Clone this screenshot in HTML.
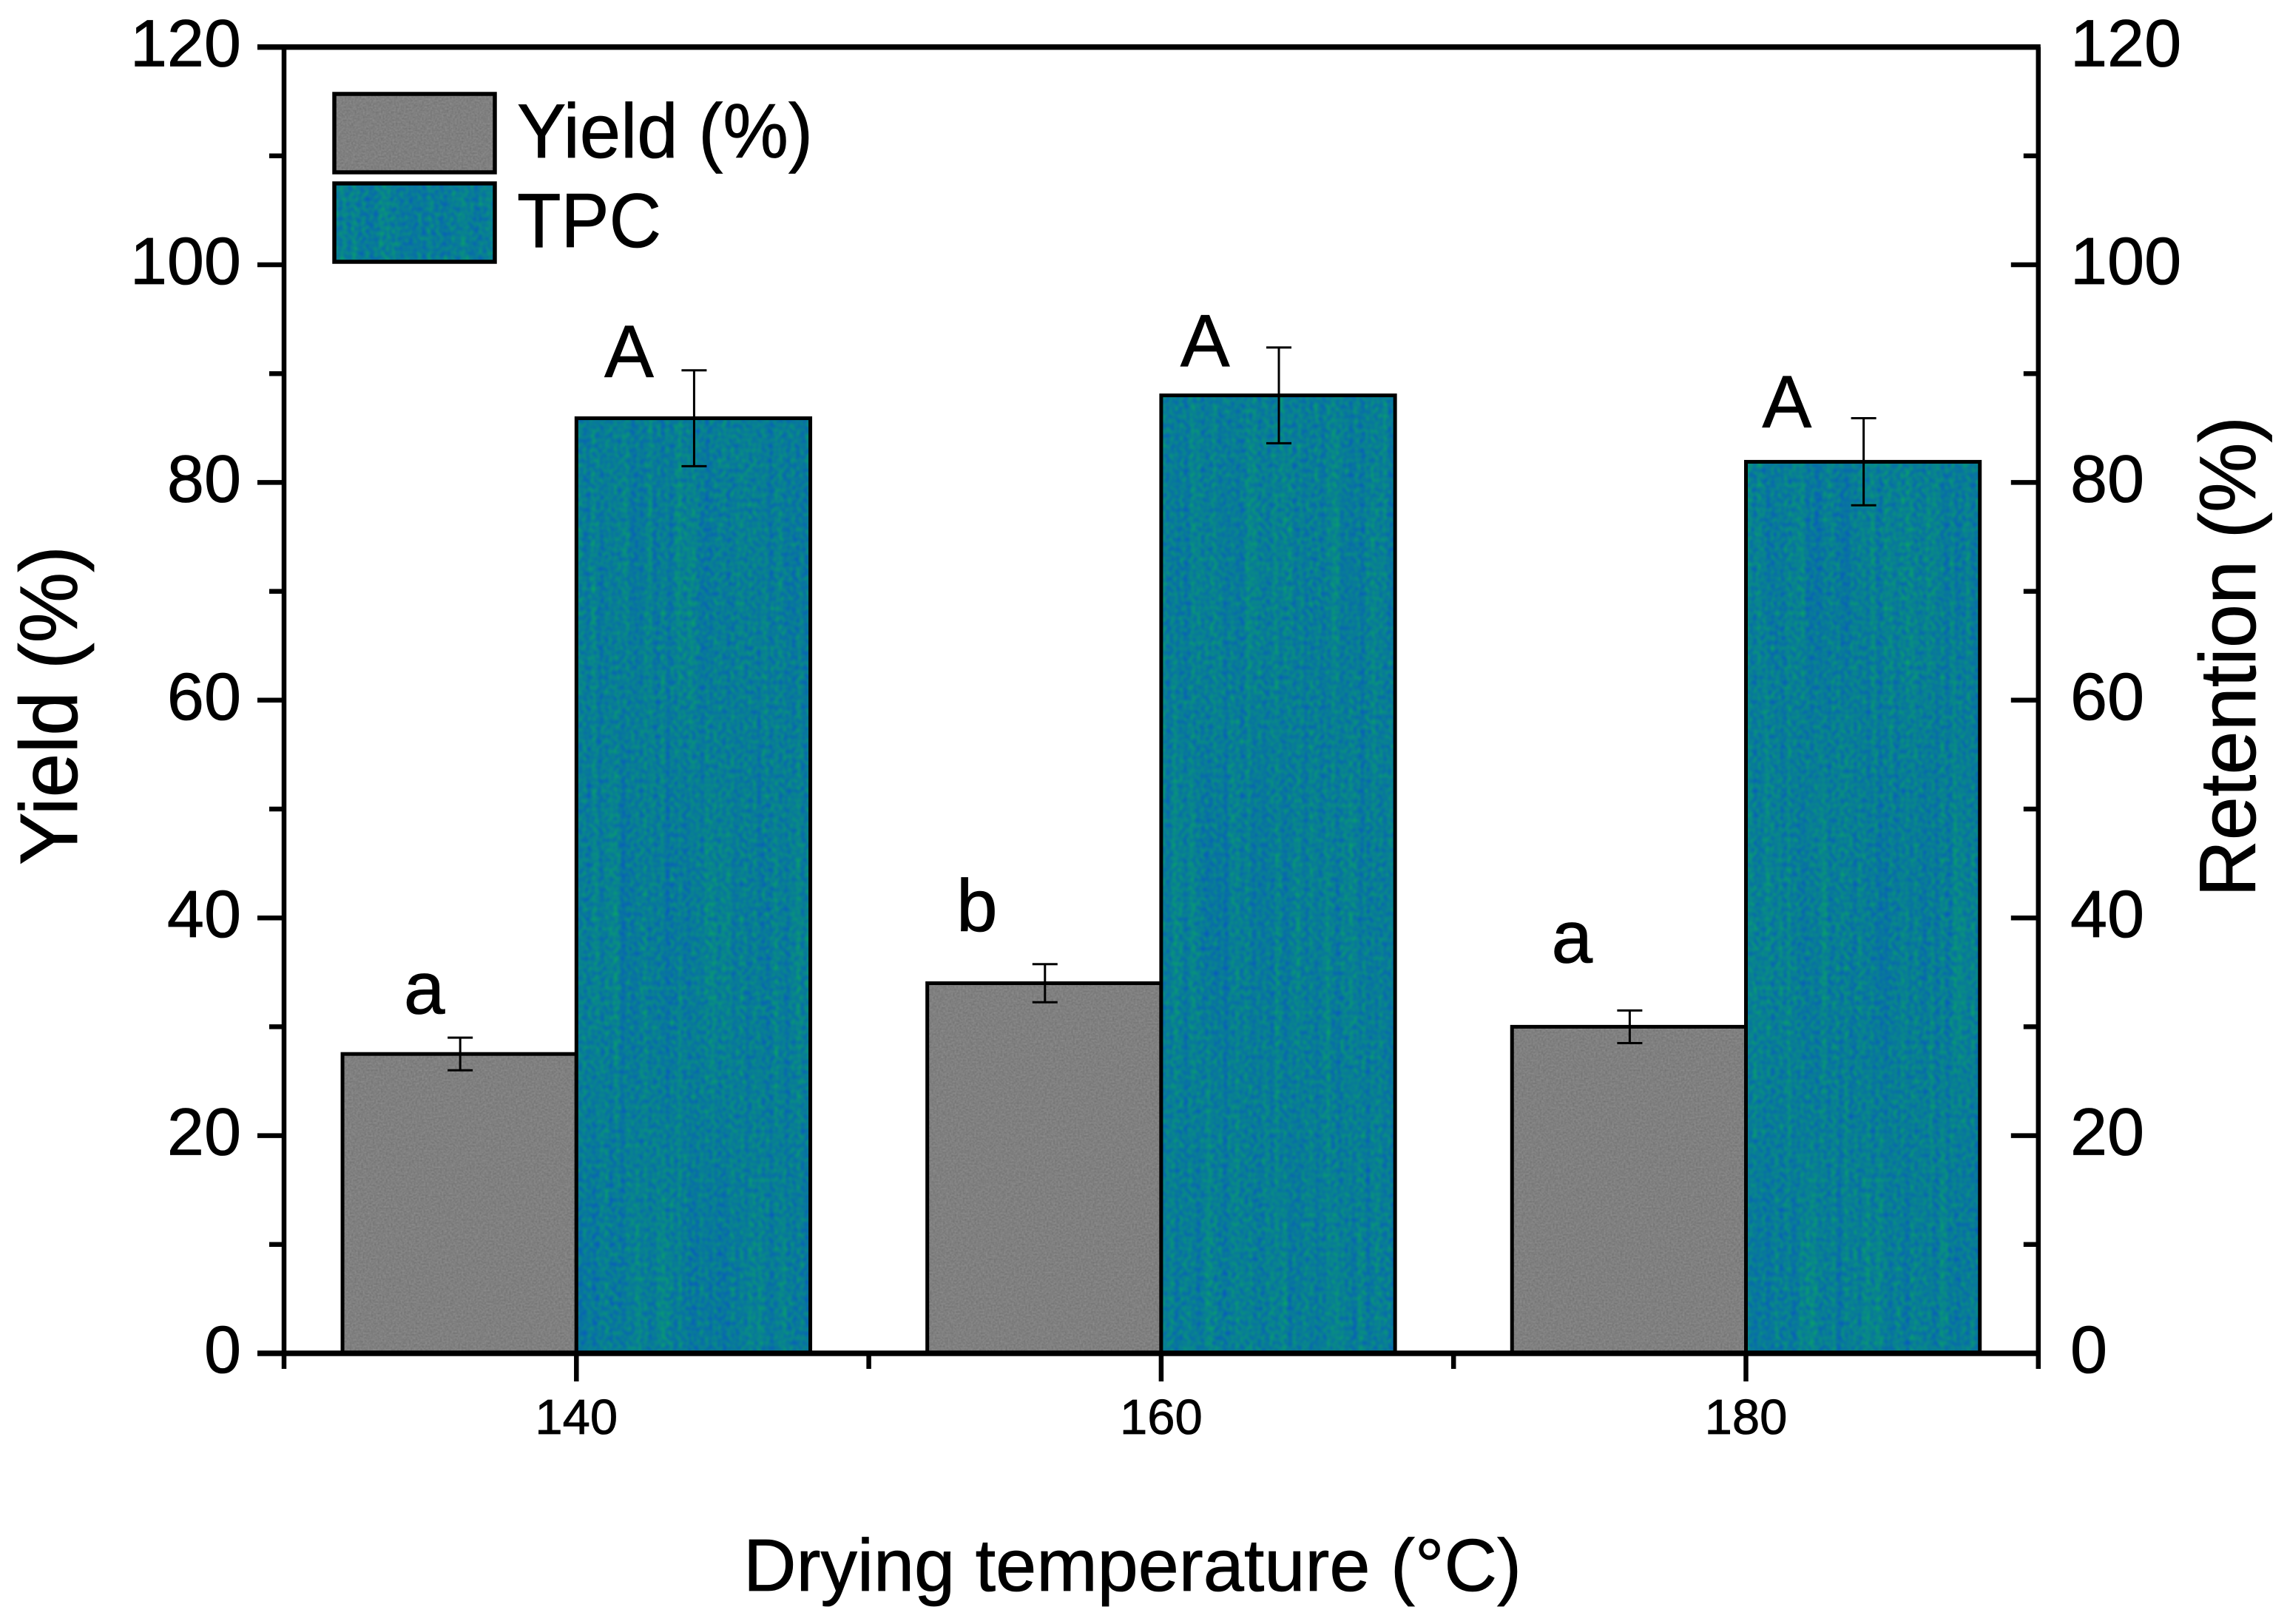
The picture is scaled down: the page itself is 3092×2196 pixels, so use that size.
<!DOCTYPE html>
<html lang="en">
<head>
<meta charset="utf-8">
<title>Yield and retention by drying temperature</title>
<style>
html,body{margin:0;padding:0;background:#fff;width:3092px;height:2196px;overflow:hidden}
svg{display:block}
text{font-family:"Liberation Sans",Arial,sans-serif;fill:#000;stroke:#000;stroke-width:0.8px}
</style>
</head>
<body>
<svg id="chart" xmlns="http://www.w3.org/2000/svg" width="3092" height="2196" viewBox="0 0 3092 2196">
<defs>
<filter id="teal-noise" x="0" y="0" width="100%" height="100%" color-interpolation-filters="sRGB">
<feTurbulence type="fractalNoise" baseFrequency="0.17 0.15" numOctaves="1" seed="7" result="fine"/>
<feTurbulence type="fractalNoise" baseFrequency="0.13 0.002" numOctaves="1" seed="3" result="stripes"/>
<feComposite in="fine" in2="stripes" operator="arithmetic" k1="0" k2="0.6" k3="0.4" k4="0"/>
<feColorMatrix type="matrix" values="0 0 0 0 0.03  0.45 0 0 0 0.265  -0.55 0 0 0 0.86  0 0 0 0 1"/>
</filter>
<filter id="gray-noise" x="0" y="0" width="100%" height="100%" color-interpolation-filters="sRGB">
<feTurbulence type="fractalNoise" baseFrequency="0.45" numOctaves="1" seed="5"/>
<feColorMatrix type="matrix" values="0.2 0 0 0 0.4  0.2 0 0 0 0.4  0.2 0 0 0 0.4  0 0 0 0 1"/>
</filter>
<pattern id="teal-texture" patternUnits="userSpaceOnUse" x="0" y="0" width="3092" height="2196">
<rect width="3092" height="2196" filter="url(#teal-noise)"/>
</pattern>
<pattern id="gray-texture" patternUnits="userSpaceOnUse" x="0" y="0" width="3092" height="2196">
<rect width="3092" height="2196" filter="url(#gray-noise)"/>
</pattern>
</defs>
<rect width="3092" height="2196" fill="#fff"/>
<g id="bars"></g>
<g id="errors"></g>
<g id="letters"></g>
<g id="axes"></g>

<g>
<rect x="452" y="127" width="217" height="106" fill="url(#gray-texture)" stroke="#000" stroke-width="5.5"/>
<text x="699" y="213" font-size="104" textLength="400" lengthAdjust="spacingAndGlyphs">Yield (%)</text>
<rect x="452" y="248" width="217" height="106" fill="url(#teal-texture)" stroke="#000" stroke-width="5.5"/>
<text x="699" y="334" font-size="104" textLength="195" lengthAdjust="spacingAndGlyphs">TPC</text>
</g>

<text x="1005" y="2151" font-size="100" textLength="1052" lengthAdjust="spacingAndGlyphs">Drying temperature (°C)</text>
<text transform="translate(104 1170) rotate(-90)" font-size="110" textLength="432" lengthAdjust="spacingAndGlyphs">Yield (%)</text>
<text transform="translate(3049 1213) rotate(-90)" font-size="108" textLength="650" lengthAdjust="spacingAndGlyphs">Retention (%)</text>
</svg>

<script>
const categories = [140, 160, 180];
const yieldValues = [27.5, 34, 30];
const tpcValues = [85.9, 88, 81.9];
const yieldErrors = [1.5, 1.75, 1.5];
const tpcErrors = [4.4, 4.4, 4];
const yieldLetters = ['a', 'b', 'a'];
const tpcLetters = ['A', 'A', 'A'];
const yieldLetterTemps = [134.8, 153.7, 174.05];
const yieldLetterLevels = [31.2, 38.8, 35.9];
const tpcLetterTemps = [141.8, 161.5, 181.4];
const tpcLetterLevels = [89.7, 90.7, 85.1];
const yTickLabels = [0, 20, 40, 60, 80, 100, 120];
const yMinorTicks = [10, 30, 50, 70, 90, 110];
const xMinorTicks = [130, 150, 170, 190];
const barSpan = 8;

const NS = 'http://www.w3.org/2000/svg';
const xScale = v => 384 + (v - 130) * 39.53;
const yScale = v => 1830 - v * 14.72;

function make(parent, tag, attrs, content) {
  const el = document.createElementNS(NS, tag);
  for (const k in attrs) el.setAttribute(k, attrs[k]);
  if (content !== undefined) el.textContent = content;
  parent.appendChild(el);
  return el;
}

const barsG = document.getElementById('bars');
const errorsG = document.getElementById('errors');
const lettersG = document.getElementById('letters');
const axesG = document.getElementById('axes');

function drawError(x, value, err, name) {
  const g = make(errorsG, 'g', {stroke: '#000', 'stroke-width': 3, fill: 'none'});
  
  
  const cx = xScale(x) + 1, top = yScale(value + err), bottom = yScale(value - err);
  make(g, 'path', {d: 'M' + cx + ' ' + top + 'V' + bottom + 'M' + (cx - 17) + ' ' + top + 'H' + (cx + 17) + 'M' + (cx - 17) + ' ' + bottom + 'H' + (cx + 17)});
}

categories.forEach((c, i) => {
  const yieldBar = make(barsG, 'rect', {
    x: xScale(c - barSpan),
    y: yScale(yieldValues[i]),
    width: xScale(c) - xScale(c - barSpan),
    height: yScale(0) - yScale(yieldValues[i]),
    fill: 'url(#gray-texture)',
    stroke: '#000',
    'stroke-width': 5
  });
  
  

  const tpcBar = make(barsG, 'rect', {
    x: xScale(c),
    y: yScale(tpcValues[i]),
    width: xScale(c + barSpan) - xScale(c),
    height: yScale(0) - yScale(tpcValues[i]),
    fill: 'url(#teal-texture)',
    stroke: '#000',
    'stroke-width': 5
  });
  
  

  drawError(c - barSpan / 2, yieldValues[i], yieldErrors[i], 'yield-error-bar-' + c);
  drawError(c + barSpan / 2, tpcValues[i], tpcErrors[i], 'tpc-error-bar-' + c);

  const yl = make(lettersG, 'text', {
    x: xScale(yieldLetterTemps[i]),
    y: yScale(yieldLetterLevels[i]),
    'font-size': 100,
    'text-anchor': 'middle'
  }, yieldLetters[i]);
  
  

  const tl = make(lettersG, 'text', {
    x: xScale(tpcLetterTemps[i]),
    y: yScale(tpcLetterLevels[i]),
    'font-size': 100,
    'text-anchor': 'middle'
  }, tpcLetters[i]);
  
  

  const tick = make(axesG, 'line', {
    x1: xScale(c), x2: xScale(c), y1: yScale(0), y2: yScale(0) + 38,
    stroke: '#000', 'stroke-width': 6.5
  });
  
  

  const label = make(axesG, 'text', {
    x: xScale(c), y: 1939, 'font-size': 67, 'text-anchor': 'middle'
  }, String(c));
  
  
});

xMinorTicks.forEach(v => {
  const t = make(axesG, 'line', {
    x1: xScale(v), x2: xScale(v), y1: yScale(0), y2: yScale(0) + 21,
    stroke: '#000', 'stroke-width': 6.5
  });
  
  
});

const spine = make(axesG, 'path', {
  d: 'M' + xScale(130) + ' ' + yScale(0) + 'V' + yScale(120) + 'M' + xScale(190) + ' ' + yScale(0) + 'V' + yScale(120),
  stroke: '#000', 'stroke-width': 6.5, fill: 'none'
});



const xAxisLine = make(axesG, 'line', {
  x1: xScale(130) - 36, x2: xScale(190) + 3, y1: yScale(0), y2: yScale(0),
  stroke: '#000', 'stroke-width': 7.5
});



const topLine = make(axesG, 'line', {
  x1: xScale(130) - 36, x2: xScale(190) + 3, y1: yScale(120), y2: yScale(120),
  stroke: '#000', 'stroke-width': 7.5
});



yTickLabels.forEach(v => {
  if (v !== 0 && v !== 120) {
    const lt = make(axesG, 'line', {
      x1: xScale(130) - 36, x2: xScale(130), y1: yScale(v), y2: yScale(v),
      stroke: '#000', 'stroke-width': 6.5
    });
    
    
    const rt = make(axesG, 'line', {
      x1: xScale(190) - 37, x2: xScale(190), y1: yScale(v), y2: yScale(v),
      stroke: '#000', 'stroke-width': 6.5
    });
    
    
  }
  const ll = make(axesG, 'text', {
    x: 326, y: yScale(v) + 26, 'font-size': 90, 'text-anchor': 'end'
  }, String(v));
  
  
  const rl = make(axesG, 'text', {
    x: 2799, y: yScale(v) + 26, 'font-size': 90
  }, String(v));
  
  
});

yMinorTicks.forEach(v => {
  const lt = make(axesG, 'line', {
    x1: xScale(130) - 20, x2: xScale(130), y1: yScale(v), y2: yScale(v),
    stroke: '#000', 'stroke-width': 6.5
  });
  
  
  const rt = make(axesG, 'line', {
    x1: xScale(190) - 20, x2: xScale(190), y1: yScale(v), y2: yScale(v),
    stroke: '#000', 'stroke-width': 6.5
  });
  
  
});
</script>
</body>
</html>
